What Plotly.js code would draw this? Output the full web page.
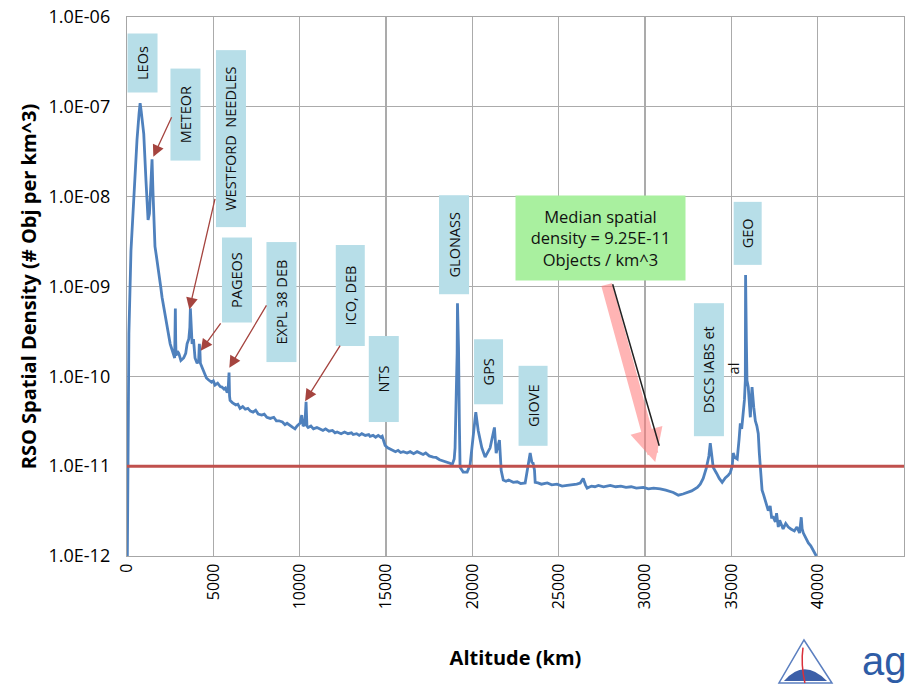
<!DOCTYPE html>
<html>
<head>
<meta charset="utf-8">
<script src="https://cdn.plot.ly/plotly-3.0.1.min.js"></script>
<style>html,body{margin:0;padding:0;background:#fff;}#chart{width:912px;height:685px;}</style>
</head>
<body>
<div id="chart"></div>
<script>
// Altitude (km) and RSO spatial density (# objects per km^3)
var altitudeKm = [20,50,110,230,400,580,700,760,820,900,970,1100,1220,1300,1400,1450,1500,1550,1620,1700,1840,1950,2030,2120,2200,2300,2420,2500,2600,2680,2760,2780,2800,2820,2840,2920,3000,3120,3280,3400,3480,3580,3640,3670,3700,3770,3850,3940,4060,4150,4190,4220,4250,4350,4440,4600,4730,4900,5000,5100,5250,5400,5500,5620,5700,5800,5850,5910,5940,5970,6100,6300,6420,6550,6700,6850,7000,7150,7300,7450,7600,7800,7950,8100,8300,8500,8650,8800,9000,9150,9270,9450,9600,9730,9850,10020,10120,10200,10300,10370,10420,10490,10650,10800,11000,11180,11350,11500,11700,11900,12050,12170,12400,12600,12800,13000,13100,13300,13450,13600,13800,14000,14080,14250,14400,14550,14700,14780,14850,14950,15100,15250,15410,15550,15700,15850,16000,16220,16400,16600,16800,16980,17150,17300,17500,17730,17900,18100,18300,18540,18700,18830,18950,19000,19120,19140,19200,19250,19290,19470,19700,19870,20050,20200,20340,20550,20740,21030,21280,21380,21570,21670,21790,21950,22100,22370,22600,22800,23060,23180,23350,23450,23520,23600,23640,23800,24000,24340,24600,24900,25200,25490,25800,26050,26250,26420,26550,26650,26900,27100,27300,27600,27990,28300,28600,28900,29200,29500,29900,30200,30500,30880,31200,31400,31640,31800,31930,32200,32450,32700,33030,33200,33370,33550,33700,33780,33850,33950,34150,34300,34470,34650,34820,34940,35050,35110,35200,35340,35450,35520,35600,35690,35760,35810,35825,35870,35906,35980,36050,36100,36150,36200,36300,36390,36480,36560,36620,36680,36730,36780,36870,36970,37050,37140,37250,37330,37430,37550,37620,37720,37800,37890,38000,38150,38300,38450,38650,38800,38950,39050,39100,39170,39300,39460,39600,39750,39920];
var densityPerKm3 = [1.0e-12,1.6e-11,3.0e-10,2.5e-9,1.2e-8,4.3e-8,8.5e-8,1.1e-7,9.0e-8,6.0e-8,5.0e-8,1.5e-8,5.5e-9,6.5e-9,2.0e-8,2.6e-8,1.2e-8,5.0e-9,2.8e-9,2.2e-9,1.3e-9,1.0e-9,7.6e-10,6.0e-10,4.6e-10,3.6e-10,2.7e-10,2.3e-10,2.0e-10,1.75e-10,1.6e-10,3.0e-10,5.7e-10,2.5e-10,1.7e-10,1.9e-10,1.8e-10,1.5e-10,1.6e-10,1.8e-10,2.3e-10,2.6e-10,3.5e-10,5.7e-10,4.0e-10,2.3e-10,2.6e-10,1.6e-10,1.4e-10,1.5e-10,2.3e-10,2.0e-10,1.4e-10,1.25e-10,1.1e-10,9.6e-11,9.1e-11,8.6e-11,8.9e-11,8.0e-11,8.4e-11,7.7e-11,7.6e-11,7.2e-11,7.4e-11,6.6e-11,6.8e-11,1.1e-10,6.0e-11,5.4e-11,5.1e-11,4.8e-11,4.9e-11,4.4e-11,4.6e-11,4.3e-11,4.4e-11,4.1e-11,4.0e-11,4.2e-11,3.8e-11,3.7e-11,3.8e-11,3.5e-11,3.4e-11,3.5e-11,3.2e-11,3.2e-11,3.1e-11,2.9e-11,3.0e-11,2.8e-11,2.7e-11,2.6e-11,2.8e-11,3.0e-11,3.7e-11,2.8e-11,2.9e-11,5.2e-11,2.8e-11,2.7e-11,2.8e-11,2.6e-11,2.7e-11,2.6e-11,2.5e-11,2.6e-11,2.45e-11,2.5e-11,2.35e-11,2.4e-11,2.3e-11,2.4e-11,2.3e-11,2.35e-11,2.25e-11,2.3e-11,2.2e-11,2.3e-11,2.2e-11,2.25e-11,2.15e-11,2.2e-11,2.1e-11,2.2e-11,2.1e-11,2.15e-11,1.9e-11,1.7e-11,1.6e-11,1.55e-11,1.5e-11,1.45e-11,1.5e-11,1.42e-11,1.45e-11,1.4e-11,1.45e-11,1.38e-11,1.45e-11,1.4e-11,1.35e-11,1.4e-11,1.3e-11,1.26e-11,1.25e-11,1.18e-11,1.15e-11,1.1e-11,1.08e-11,1.03e-11,1.2e-11,1.6e-11,1.8e-10,6.5e-10,2.1e-10,3.0e-11,9.7e-12,8.6e-12,8.6e-12,1.03e-11,2.1e-11,4.0e-11,2.5e-11,1.6e-11,1.26e-11,1.6e-11,2.7e-11,1.4e-11,1.95e-11,9.0e-12,7.0e-12,6.8e-12,7.0e-12,6.6e-12,6.7e-12,6.4e-12,6.5e-12,9.0e-12,1.4e-11,1.1e-11,1.08e-11,9.0e-12,6.6e-12,6.5e-12,6.3e-12,6.5e-12,6.2e-12,6.3e-12,6.0e-12,6.1e-12,6.2e-12,6.3e-12,6.5e-12,7.3e-12,6.2e-12,5.7e-12,6.0e-12,5.9e-12,6.1e-12,5.9e-12,6.1e-12,5.9e-12,6.0e-12,5.8e-12,5.9e-12,5.7e-12,5.8e-12,5.6e-12,5.7e-12,5.6e-12,5.4e-12,5.3e-12,5.1e-12,4.9e-12,4.75e-12,4.9e-12,5.1e-12,5.3e-12,5.8e-12,6.3e-12,7.3e-12,9.5e-12,1.3e-11,1.8e-11,1.4e-11,9.7e-12,8.3e-12,7.3e-12,6.6e-12,7.4e-12,7.9e-12,8.5e-12,1.0e-11,1.4e-11,1.25e-11,1.2e-11,2.0e-11,3.0e-11,2.6e-11,3.9e-11,5.5e-11,9.0e-11,1.34e-9,2.5e-10,9.0e-11,7.6e-11,5.0e-11,3.5e-11,5.5e-11,7.6e-11,4.5e-11,3.2e-11,2.8e-11,2.3e-11,1.4e-11,1.0e-11,7.0e-12,5.4e-12,4.8e-12,4.2e-12,3.7e-12,3.2e-12,3.6e-12,2.7e-12,2.7e-12,2.4e-12,3.0e-12,2.1e-12,2.5e-12,2.3e-12,2.0e-12,2.3e-12,2.1e-12,2.0e-12,1.9e-12,2.1e-12,1.8e-12,2.7e-12,2.0e-12,1.8e-12,1.6e-12,1.4e-12,1.3e-12,1.16e-12,1.0e-12];

var referenceAlt = [0, 45000];
var referenceDensity = [1.0e-11, 1.0e-11];

var xTickVals = [0,5000,10000,15000,20000,25000,30000,35000,40000,45000];
var xTickText = ['0','5000','10000','15000','20000','25000','30000','35000','40000','45000'];
var yTickVals = [1e-12,1e-11,1e-10,1e-9,1e-8,1e-7,1e-6];
var yTickText = ['1.0E-12','1.0E-11','1.0E-10','1.0E-09','1.0E-08','1.0E-07','1.0E-06'];

// labels: text, altitude, log10 density, box length along text, box thickness
var labelText = ['LEOs','METEOR','WESTFORD  NEEDLES','PAGEOS','EXPL 38 DEB','ICO, DEB','NTS','GLONASS','GPS','GIOVE','DSCS IABS et','GEO'];
var labelAlt  = [927,3389,5997,6385,8934,12938,14850,18917,20945,23495,33681,35952];
var labelLogY = [-6.512,-7.086,-7.359,-8.925,-9.176,-9.096,-10.031,-8.539,-9.953,-10.326,-9.931,-8.411];
var labelLen  = [58,91,176,84,119,100,85,98,64,79,132,62];
var labelThick= [29,29,29,29,29,28,29,29,28,28,29,27];

// arrows: tip altitude, tip log10 density, tail offsets (px)
var arrowAlt  = [1524,3610,4270,5927,10313];
var arrowLogY = [-7.556,-9.255,-9.716,-9.905,-10.276];
var arrowAx   = [19,26,21,38,36];
var arrowAy   = [-41,-112,-29,-64,-57];

var FONT = '"Open Sans", "Noto Sans", sans-serif';

var annotations = [];
for (var i = 0; i < labelText.length; i++) {
  annotations.push({
    x: labelAlt[i], y: labelLogY[i], xref: 'x', yref: 'y',
    text: labelText[i], showarrow: false, textangle: -90,
    width: labelLen[i], height: labelThick[i],
    bgcolor: '#B7DEE8', borderpad: 0,
    font: {family: FONT, size: 14.5, color: '#111'},
    xanchor: 'center', yanchor: 'middle'
  });
}
annotations.push({
  x: 35112, y: -9.909, xref: 'x', yref: 'y', text: 'al', showarrow: false,
  textangle: -90, font: {family: FONT, size: 14.5, color: '#111'}
});
for (var j = 0; j < arrowAlt.length; j++) {
  annotations.push({
    x: arrowAlt[j], y: arrowLogY[j], xref: 'x', yref: 'y', text: '',
    showarrow: true, ax: arrowAx[j], ay: arrowAy[j],
    arrowcolor: '#A5443F', arrowwidth: 1.3, arrowhead: 2, arrowsize: 1.8
  });
}
// median box
annotations.push({
  x: 27434, y: -8.461, xref: 'x', yref: 'y',
  text: 'Median spatial<br>density = 9.25E-11<br>Objects / km^3',
  showarrow: false, width: 169, height: 84, bgcolor: '#A9F09F', borderpad: 0,
  font: {family: FONT, size: 16.5, color: '#111'}, align: 'center'
});
// big pink arrow from box
annotations.push({
  x: 30592, y: -10.955, xref: 'x', yref: 'y', text: '',
  showarrow: true, ax: -49, ay: -179,
  arrowcolor: 'rgba(255,120,120,0.55)', arrowwidth: 11, arrowhead: 2, arrowsize: 0.6
});
annotations.push({
  x: 30824, y: -10.773, xref: 'x', yref: 'y', text: '',
  showarrow: true, ax: -47, ay: -163,
  arrowcolor: '#222', arrowwidth: 1.5, arrowhead: 0
});
// logo text
annotations.push({
  x: 1.0051, y: -0.2375, xref: 'paper', yref: 'paper', text: 'ag', showarrow: false,
  font: {family: 'Liberation Sans, Arial, sans-serif', size: 40, color: '#2E5CA6'},
  xanchor: 'right', yanchor: 'bottom', borderpad: 0
});

var shapes = [
  {type: 'path', xref: 'paper', yref: 'paper',
   path: 'M 0.8713 -0.1558 L 0.8391 -0.2356 L 0.9073 -0.2356 Z',
   line: {color: '#5B7FC0', width: 1.5}, fillcolor: 'rgba(0,0,0,0)'},
  {type: 'path', xref: 'paper', yref: 'paper',
   path: 'M 0.8455 -0.2320 Q 0.8713 -0.1880 0.9010 -0.2320 Z',
   line: {width: 0}, fillcolor: '#3C5FA8'},
  {type: 'path', xref: 'paper', yref: 'paper',
   path: 'M 0.8700 -0.1700 Q 0.8670 -0.2000 0.8725 -0.2356',
   line: {color: '#D9303A', width: 1.5}}
];

var traces = [
  {x: altitudeKm, y: densityPerKm3, type: 'scatter', mode: 'lines',
   line: {color: '#4F81BD', width: 2.8}, hoverinfo: 'x+y'},
  {x: referenceAlt, y: referenceDensity, type: 'scatter', mode: 'lines',
   line: {color: '#C0504D', width: 3}}
];

var layout = {
  width: 912, height: 685,
  margin: {l: 127, r: 8, t: 17, b: 129},
  paper_bgcolor: '#fff', plot_bgcolor: '#fff',
  showlegend: false,
  font: {family: FONT, color: '#000'},
  xaxis: {
    range: [0, 45000], tickvals: xTickVals, ticktext: xTickText, tickangle: -90,
    tickfont: {family: FONT, size: 16, color: '#000'},
    showgrid: true, gridcolor: '#ABABAB', gridwidth: 1.2,
    showline: true, linecolor: '#A6A6A6', linewidth: 1.2, mirror: true,
    zeroline: false, ticks: '', automargin: false,
    title: {text: 'Altitude (km)', font: {family: FONT, size: 20, color: '#000', weight: 'bold'}, standoff: 42}
  },
  yaxis: {
    type: 'log', range: [-12, -6], tickvals: yTickVals, ticktext: yTickText,
    tickfont: {family: FONT, size: 18, color: '#000'},
    showgrid: true, gridcolor: '#ABABAB', gridwidth: 1.2,
    showline: true, linecolor: '#A6A6A6', linewidth: 1.2, mirror: true,
    zeroline: false, ticks: '', automargin: false, ticklabelstandoff: 12,
    title: {text: 'RSO Spatial Density (# Obj per km^3)', font: {family: FONT, size: 20, color: '#000', weight: 'bold'}, standoff: 6}
  },
  annotations: annotations,
  shapes: shapes
};

Plotly.newPlot('chart', traces, layout, {displayModeBar: false, staticPlot: true});
</script>
</body>
</html>
